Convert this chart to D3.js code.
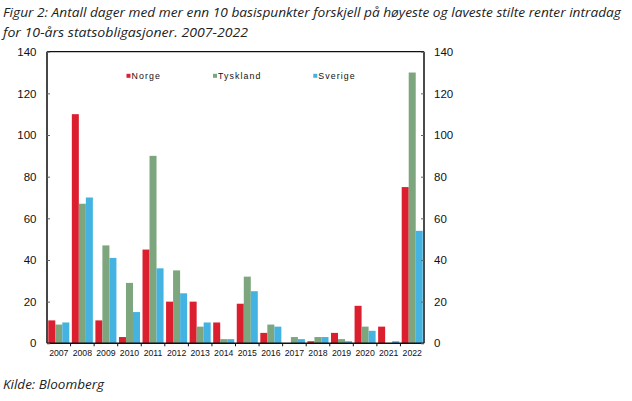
<!DOCTYPE html>
<html><head><meta charset="utf-8">
<script src="https://cdn.jsdelivr.net/npm/d3@7"></script>
<style>
body{margin:0;background:#fff;}
svg{display:block;}
</style></head>
<body>
<svg id="c" width="632" height="401"></svg>
<script>
const years = ["2007","2008","2009","2010","2011","2012","2013","2014","2015","2016","2017","2018","2019","2020","2021","2022"];
const seriesNames = ["Norge","Tyskland","Sverige"];
const norge    = [11,110,11,3,45,20,20,10,19,5,0,1,5,18,8,75];
const tyskland = [9,67,47,29,90,35,8,2,32,9,3,3,2,8,0,130];
const sverige  = [10,70,41,15,36,24,10,2,25,8,2,3,1,6,1,54];
const yTicks = [0,20,40,60,80,100,120,140];
const colors = ["#dc1f2e","#7da67e","#44b3e2"];
const titleLines = ["Figur 2: Antall dager med mer enn 10 basispunkter forskjell på høyeste og laveste stilte renter intradag","for 10-års statsobligasjoner. 2007-2022"];
const source = "Kilde: Bloomberg";

const svg = d3.select("#c");
const L = 47, R = 424, T = 51.7, B = 343.3;

const x = d3.scaleBand().domain(years).range([L, R]).paddingInner(0).paddingOuter(0);
const xi = d3.scaleBand().domain(seriesNames).range([0, x.bandwidth()]).paddingInner(0).paddingOuter(0.18);
const y = d3.scaleLinear().domain([0,140]).range([B, T]);

const data = [norge, tyskland, sverige];

// title
const tf = "'Open Sans', 'DejaVu Sans', sans-serif";
svg.append("text").attr("x",3).attr("y",17).attr("font-family",tf).attr("font-style","italic").attr("font-size",12.5)
  .attr("textLength",618).attr("lengthAdjust","spacingAndGlyphs").attr("fill","#222").text(titleLines[0]);
svg.append("text").attr("x",3).attr("y",37).attr("font-family",tf).attr("font-style","italic").attr("font-size",12.5)
  .attr("textLength",245).attr("lengthAdjust","spacingAndGlyphs").attr("fill","#222").text(titleLines[1]);
svg.append("text").attr("x",3).attr("y",389).attr("font-family",tf).attr("font-style","italic").attr("font-size",12)
  .attr("textLength",101).attr("lengthAdjust","spacingAndGlyphs").attr("fill","#222").text(source);

// bars
seriesNames.forEach((s, si) => {
  svg.append("g").selectAll("rect").data(years).join("rect")
    .attr("x", d => x(d) + xi(s))
    .attr("width", xi.bandwidth())
    .attr("y", (d,i) => y(data[si][i]))
    .attr("height", (d,i) => y(0) - y(data[si][i]))
    .attr("fill", colors[si]);
});

// frame
const frame = svg.append("g").attr("stroke","#111").attr("fill","none");
frame.append("line").attr("x1",L).attr("x2",R).attr("y1",T).attr("y2",T).attr("stroke-width",1.3);
frame.append("line").attr("x1",L).attr("x2",L).attr("y1",T).attr("y2",B).attr("stroke-width",1.8).attr("stroke","#333");
frame.append("line").attr("x1",R).attr("x2",R).attr("y1",T).attr("y2",B).attr("stroke-width",1.5);
frame.append("line").attr("x1",L).attr("x2",R).attr("y1",B).attr("y2",B).attr("stroke-width",1.5);

const af = "'Liberation Sans', Arial, sans-serif";
// left axis
const yl = svg.append("g").attr("transform",`translate(${L},0)`)
  .call(d3.axisRight(y).tickValues(yTicks).tickSize(3).tickPadding(-16));
yl.select(".domain").remove();
yl.selectAll(".tick line").attr("stroke","#666");
yl.selectAll(".tick text").attr("x",-10.5).attr("text-anchor","end").attr("font-family",af).attr("font-size",11.5).attr("fill","#111");
// right axis
const yr = svg.append("g").attr("transform",`translate(${R},0)`)
  .call(d3.axisLeft(y).tickValues(yTicks).tickSize(3));
yr.select(".domain").remove();
yr.selectAll(".tick line").attr("stroke","#666");
yr.selectAll(".tick text").attr("x",10).attr("text-anchor","start").attr("font-family",af).attr("font-size",11.5).attr("fill","#111");

// bottom axis
const xa = svg.append("g").attr("transform",`translate(0,${B})`)
  .call(d3.axisBottom(x).tickSize(0).tickPadding(7));
xa.select(".domain").remove();
xa.selectAll(".tick text").attr("font-family",af).attr("font-size",8.7).attr("fill","#111");
svg.append("g").selectAll("line").data(years.slice(1)).join("line")
  .attr("x1", d => x(d)).attr("x2", d => x(d)).attr("y1", B).attr("y2", B+3).attr("stroke","#111");

// legend
const legX = [126.5, 213, 313.3];
const lg = svg.append("g");
seriesNames.forEach((s, si) => {
  lg.append("rect").attr("x",legX[si]).attr("y",73.8).attr("width",4).attr("height",4).attr("fill",colors[si]);
  lg.append("text").attr("x",legX[si]+5).attr("y",79).attr("font-family",af).attr("font-size",8.8)
    .attr("letter-spacing",1.1).attr("fill","#111").text(s);
});
</script>
</body></html>
